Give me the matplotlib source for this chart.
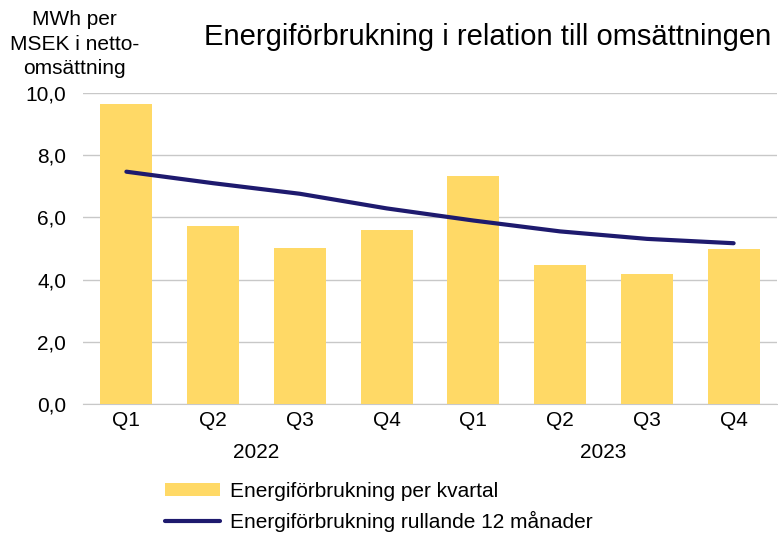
import matplotlib.pyplot as plt
import numpy as np

plt.rcParams['font.family'] = ['Liberation Sans', 'DejaVu Sans']

quarters = ["Q1", "Q2", "Q3", "Q4", "Q1", "Q2", "Q3", "Q4"]
years = ["2022", "2023"]
per_kvartal = [9.65, 5.72, 5.02, 5.6, 7.32, 4.48, 4.17, 5.0]
rullande_12 = [7.47, 7.1, 6.76, 6.29, 5.9, 5.55, 5.31, 5.17]

bar_color = '#FFD966'
line_color = '#1E1A6E'

fig = plt.figure(figsize=(7.78, 5.33), dpi=100)
ax = fig.add_axes([0.1067, 0.242, 0.892, 0.5835])

x = np.arange(len(quarters))
bars = ax.bar(x, per_kvartal, width=0.6, color=bar_color, zorder=2)
line, = ax.plot(x, rullande_12, color=line_color, lw=3, solid_capstyle='round', zorder=3)

ax.set_xlim(-0.5, len(quarters) - 0.5)
ax.set_ylim(0, 10)
ax.set_yticks(np.arange(0, 10.1, 2))
ax.set_yticklabels([f"{v:.1f}".replace('.', ',') for v in np.arange(0, 10.1, 2)])
ax.set_xticks(x)
ax.set_xticklabels(quarters)
ax.tick_params(axis='both', length=0, labelsize=15)
ax.tick_params(axis='y', pad=12)
ax.tick_params(axis='x', pad=5)
ax.grid(axis='y', color='#C8C8C8', lw=1, zorder=0)
for s in ['top', 'right', 'left']:
    ax.spines[s].set_visible(False)
ax.spines['bottom'].set_color('#C8C8C8')
ax.spines['bottom'].set_zorder(1)

# year labels under the quarters
for i, yr in enumerate(years):
    ax.text(i * 4 + 1.5, -1.55, yr, ha='center', va='center', fontsize=15)

fig.text(0.096, 0.917, "MWh per\nMSEK i netto-\nomsättning", ha='center', va='center',
         fontsize=15, linespacing=1.35)
fig.text(0.627, 0.93, "Energiförbrukning i relation till omsättningen", ha='center',
         va='center', fontsize=21)

fig.legend([bars, line],
           ['Energiförbrukning per kvartal', 'Energiförbrukning rullande 12 månader'],
           loc='upper left', bbox_to_anchor=(0.202, 0.112),
           frameon=False, fontsize=15, handlelength=2.6, handleheight=0.6,
           handletextpad=0.5, labelspacing=0.5, borderaxespad=0)

fig.savefig('out.png', dpi=100)
